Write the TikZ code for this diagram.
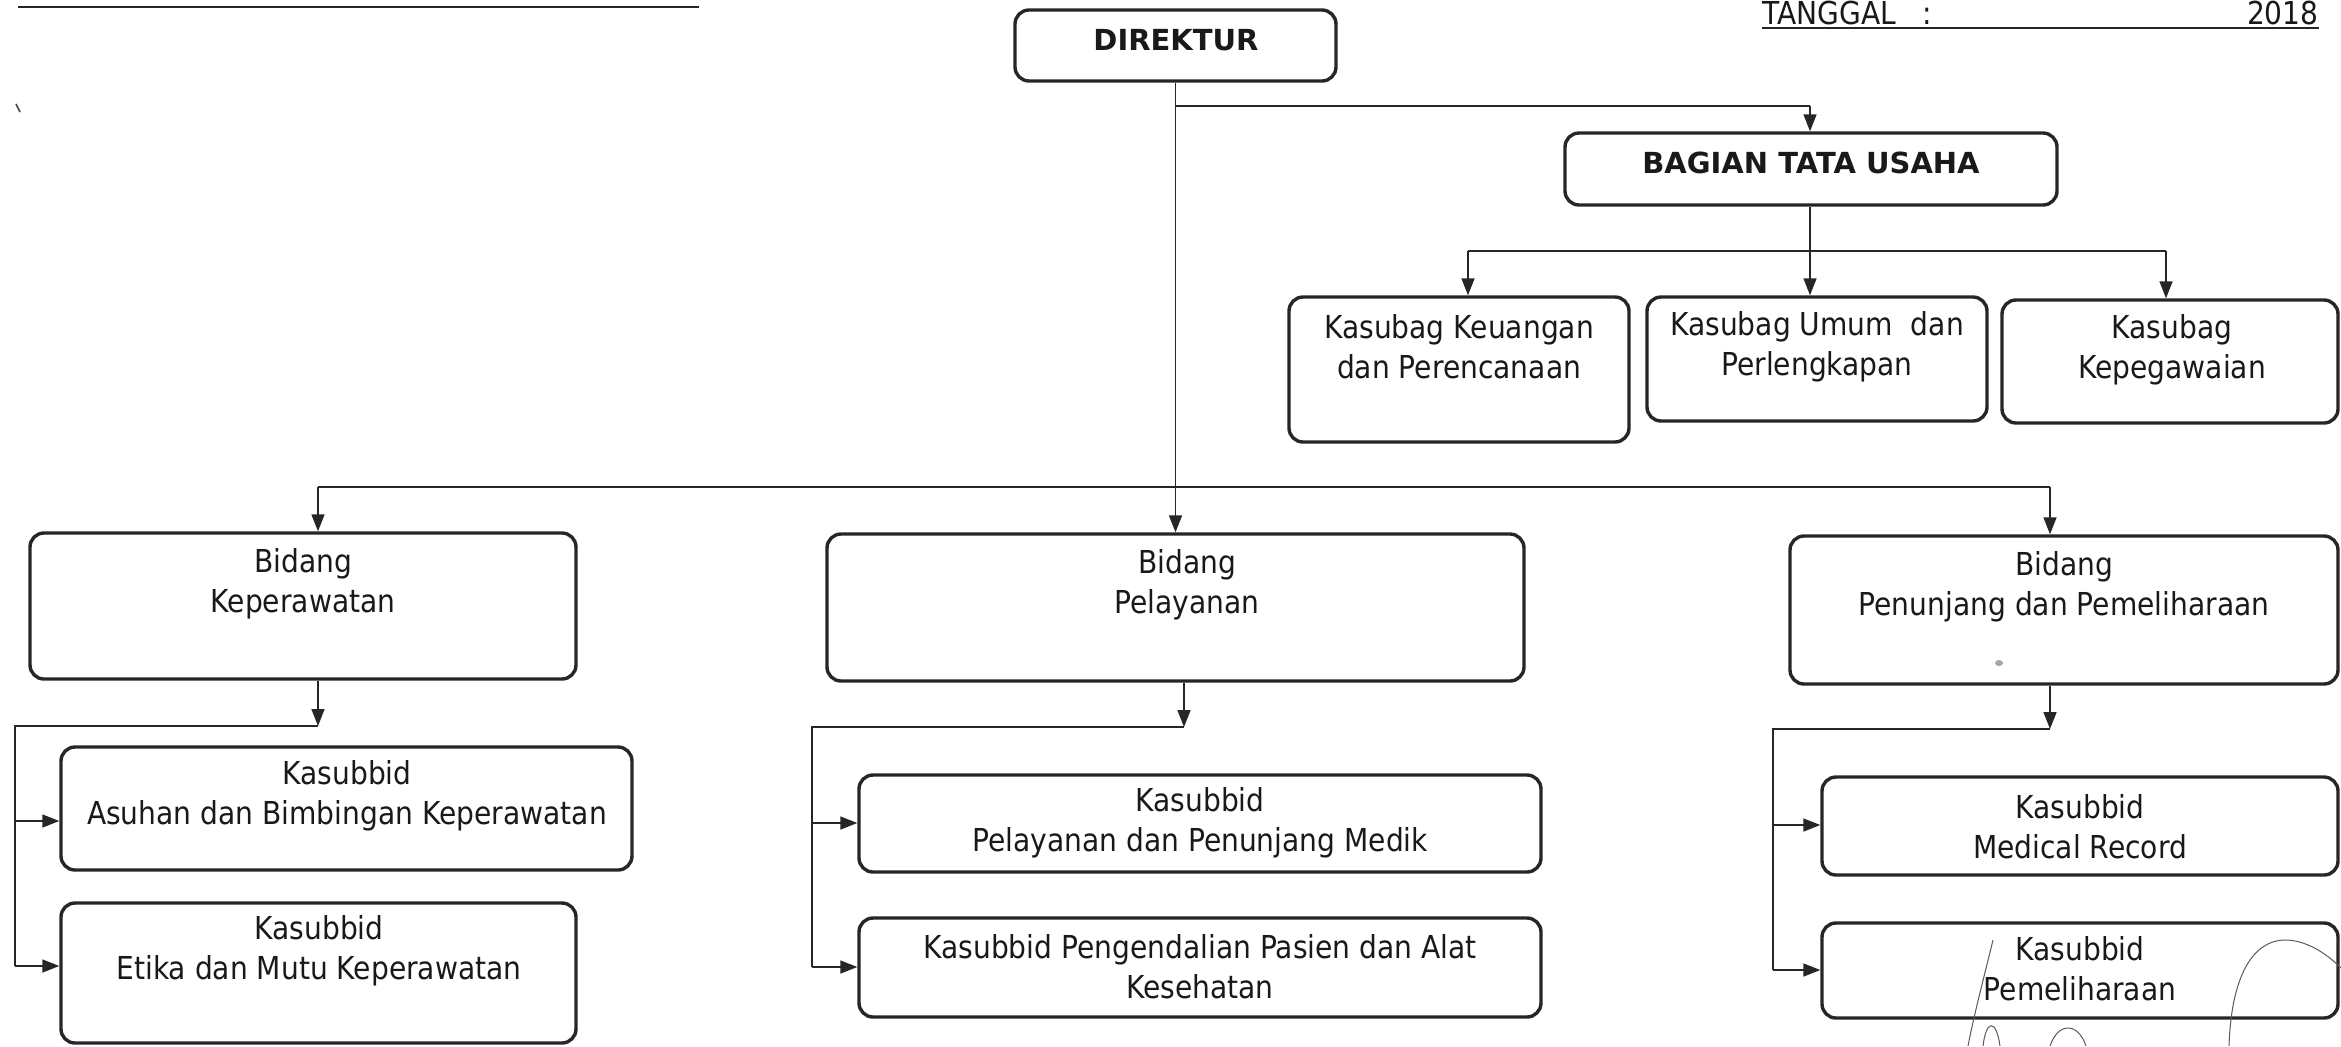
\documentclass[tikz,border=0pt]{standalone}
\usepackage{fontspec}
\setmainfont{DejaVu Sans}
\newfontfamily\nf{DejaVu Sans}[FakeStretch=0.89]
\usetikzlibrary{arrows.meta,fit,calc}
\begin{document}
\begin{tikzpicture}[x=0.5pt,y=-0.5pt,
  box/.style={draw=black!85,line width=1.7pt,rounded corners=7pt,inner sep=0pt},
  txt/.style={font=\nf\fontsize{15.8}{20}\selectfont,align=center,inner sep=0pt,text=black!90},
  bold/.style={font=\bfseries\fontsize{14.5}{18}\selectfont,inner sep=0pt,text=black!90},
  con/.style={draw=black!85,line width=0.8pt},
  arr/.style={con,-{Triangle[length=8.5pt,width=6.5pt]}},
  sig/.style={draw=black!65,line width=0.5pt}]
\useasboundingbox (0,0) rectangle (2341,1046);
\newcommand\mybox[5]{\node[box,fit={(#2,#3)(#4,#5)}] (#1) {};}
% header
\draw[con,line width=1pt] (18,7) -- (699,7);
\draw[black!70,line width=0.8pt] (16,104) -- (20,112);
\node[txt,anchor=base west] (tgl) at (1762,24) {TANGGAL\ \ \ :};
\node[txt,anchor=base east] (yr) at (2319,24) {2018};
\draw[con,line width=0.9pt] ([yshift=-2pt]tgl.base west) -- ([yshift=-2pt]yr.base east);
% boxes
\mybox{dir}{1015}{10}{1336}{81}
\mybox{btu}{1565}{133}{2057}{205}
\mybox{keu}{1289}{297}{1629}{442}
\mybox{umum}{1647}{297}{1987}{421}
\mybox{peg}{2002}{300}{2338}{423}
\mybox{bkep}{30}{533}{576}{679}
\mybox{bpel}{827}{534}{1524}{681}
\mybox{bpen}{1790}{536}{2338}{684}
\mybox{asuhan}{61}{747}{632}{870}
\mybox{etika}{61}{903}{576}{1043}
\mybox{pmed}{859}{775}{1541}{872}
\mybox{palat}{859}{918}{1541}{1017}
\mybox{mr}{1822}{777}{2338}{875}
\mybox{pml}{1822}{923}{2338}{1018}
% texts
\node[bold] (dirT) at (1176,40) {DIREKTUR};
\node[bold] (btuT) at (1811,163) {BAGIAN TATA USAHA};
\node[txt] (keuT) at (1459,347) {Kasubag Keuangan\\dan Perencanaan};
\node[txt] (umumT) at (1817,347) {Kasubag Umum\ \ dan\\Perlengkapan};
\node[txt] (pegT) at (2172,350) {Kasubag\\Kepegawaian};
\node[txt] (bkepT) at (303,584) {Bidang\\Keperawatan};
\node[txt] (bpelT) at (1187,585) {Bidang\\Pelayanan};
\node[txt] (bpenT) at (2064,587) {Bidang\\Penunjang dan Pemeliharaan};
\node[txt] (asT) at (347,796) {Kasubbid\\Asuhan dan Bimbingan Keperawatan};
\node[txt] (etT) at (319,951) {Kasubbid\\Etika dan Mutu Keperawatan};
\node[txt] (pmT) at (1200,823) {Kasubbid\\Pelayanan dan Penunjang Medik};
\node[txt] (paT) at (1200,967) {Kasubbid Pengendalian Pasien dan Alat\\Kesehatan};
\node[txt] (mrT) at (2080,827) {Kasubbid\\Medical Record};
\node[txt] (pmlT) at (2080,969) {Kasubbid\\Pemeliharaan};
% junction coordinates
\coordinate (j0) at (1176,106);
\coordinate (j0r) at (1810,106);
\coordinate (j1) at (1176,487);
\coordinate (j1l) at (318,487);
\coordinate (j1r) at (2050,487);
\coordinate (j2) at (1810,251);
\coordinate (j2l) at (1468,251);
\coordinate (j2r) at (2166,251);
\coordinate (k1) at (318,726);
\coordinate (k1l) at (15,726);
\coordinate (p1) at (1184,727);
\coordinate (p1l) at (812,727);
\coordinate (n1) at (2050,729);
\coordinate (n1l) at (1773,729);
% top level connectors
\draw[arr] (dir.south) -- (bpel.north);
\draw[con] (j0) -- (j0r);
\draw[arr] (j0r) -- (j0r |- btu.north);
\draw[con] (j1l) -- (j1r);
\draw[arr] (j1l) -- (j1l |- bkep.north);
\draw[arr] (j1r) -- (j1r |- bpen.north);
% bagian tata usaha
\draw[arr] (btu.south -| j2) -- (j2 |- umum.north);
\draw[con] (j2l) -- (j2r);
\draw[arr] (j2l) -- (j2l |- keu.north);
\draw[arr] (j2r) -- (j2r |- peg.north);
% keperawatan
\draw[arr] (k1 |- bkep.south) -- (k1);
\draw[con] (k1) -- (k1l) -- (k1l |- 0,966);
\draw[arr] (k1l |- 0,821) -- (asuhan.west |- 0,821);
\draw[arr] (k1l |- 0,966) -- (etika.west |- 0,966);
% pelayanan
\draw[arr] (p1 |- bpel.south) -- (p1);
\draw[con] (p1) -- (p1l) -- (p1l |- 0,967);
\draw[arr] (p1l |- 0,823) -- (pmed.west |- 0,823);
\draw[arr] (p1l |- 0,967) -- (palat.west |- 0,967);
% penunjang
\draw[arr] (n1 |- bpen.south) -- (n1);
\draw[con] (n1) -- (n1l) -- (n1l |- 0,970);
\draw[arr] (n1l |- 0,825) -- (mr.west |- 0,825);
\draw[arr] (n1l |- 0,970) -- (pml.west |- 0,970);
% smudge and signature
\fill[black!35] (1999,663) ellipse (4 and 3);
\draw[sig] (1993,940) .. controls (1982,985) and (1974,1015) .. (1968,1046);
\draw[sig] (1983,1046) .. controls (1986,1020) and (1996,1018) .. (2000,1046);
\draw[sig] (2050,1046) .. controls (2058,1022) and (2078,1022) .. (2086,1046);
\draw[sig] (2229,1046) .. controls (2232,960) and (2262,940) .. (2285,940)
  .. controls (2305,940) and (2325,952) .. (2341,968);
\end{tikzpicture}
\end{document}
